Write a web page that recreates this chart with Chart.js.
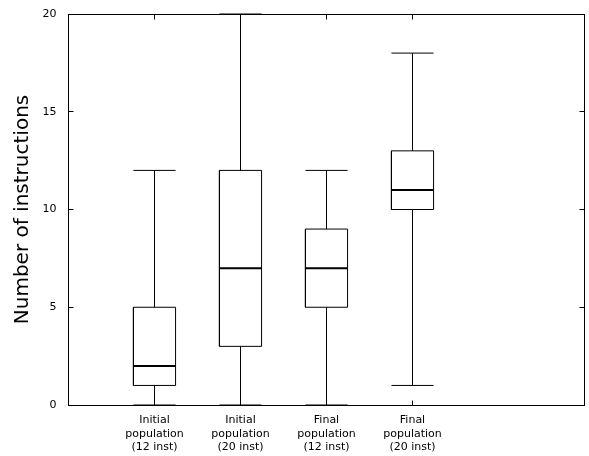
<!DOCTYPE html>
<html>
<head>
<meta charset="utf-8">
<script src="https://cdn.jsdelivr.net/npm/chart.js@4"></script>
<style>
  html, body { margin: 0; padding: 0; background: #fff; }
  #wrap { width: 589px; height: 456px; }
</style>
</head>
<body>
<div id="wrap"><canvas id="boxChart" width="589" height="456"></canvas></div>
<script>
// Box plot: number of instructions per population
const categories = [
  ["Initial", "population", "(12 inst)"],
  ["Initial", "population", "(20 inst)"],
  ["Final", "population", "(12 inst)"],
  ["Final", "population", "(20 inst)"]
];
const positions = [1, 2, 3, 4];
const mins    = [0, 0, 0, 1];
const q1s     = [1, 3, 5, 10];
const medians = [2, 7, 7, 11];
const q3s     = [5, 12, 9, 13];
const maxs    = [12, 20, 12, 18];
const yTicks  = [0, 5, 10, 15, 20];

const HALF = 0.245;   // half box width, in x units
const FONT = "'DejaVu Sans', sans-serif";

// one dataset per kind of mark, segments split by null points
function boxOutlines() {
  const pts = [];
  positions.forEach((x, i) => {
    pts.push({ x: x - HALF, y: q1s[i] }, { x: x + HALF, y: q1s[i] },
             { x: x + HALF, y: q3s[i] }, { x: x - HALF, y: q3s[i] },
             { x: x - HALF, y: q1s[i] }, { x: x, y: null });
  });
  return pts;
}
function medianLines() {
  const pts = [];
  positions.forEach((x, i) => {
    pts.push({ x: x - HALF, y: medians[i] }, { x: x + HALF, y: medians[i] }, { x: x, y: null });
  });
  return pts;
}
function whiskerLines() {
  const pts = [];
  positions.forEach((x, i) => {
    pts.push({ x: x, y: mins[i] }, { x: x, y: q1s[i] }, { x: x, y: null });
    pts.push({ x: x, y: q3s[i] }, { x: x, y: maxs[i] }, { x: x, y: null });
  });
  return pts;
}
function capLines() {
  const pts = [];
  positions.forEach((x, i) => {
    pts.push({ x: x - HALF, y: mins[i] }, { x: x + HALF, y: mins[i] }, { x: x, y: null });
    pts.push({ x: x - HALF, y: maxs[i] }, { x: x + HALF, y: maxs[i] }, { x: x, y: null });
  });
  return pts;
}

function lineSet(data, width) {
  return {
    data,
    showLine: true,
    spanGaps: false,
    borderColor: "#000",
    borderWidth: width,
    pointRadius: 0,
    pointHoverRadius: 0,
    tension: 0,
    clip: false
  };
}

// gnuplot-like frame with inward ticks on all four sides
const framePlugin = {
  id: "frame",
  afterDatasetsDraw(chart) {
    const { ctx, chartArea: a, scales: { x, y } } = chart;
    const len = 5;
    const L = Math.floor(a.left) + 0.5, R = Math.floor(a.right) + 0.5;
    const T = Math.floor(a.top) + 0.5, B = Math.floor(a.bottom) + 0.5;
    ctx.save();
    ctx.strokeStyle = "#000";
    ctx.lineWidth = 1;
    ctx.strokeRect(L, T, R - L, B - T);
    ctx.beginPath();
    positions.forEach(v => {
      const px = Math.floor(x.getPixelForValue(v)) + 0.5;
      ctx.moveTo(px, B); ctx.lineTo(px, B - len);
      ctx.moveTo(px, T); ctx.lineTo(px, T + len);
    });
    yTicks.forEach(v => {
      const py = Math.floor(y.getPixelForValue(v)) + 0.5;
      ctx.moveTo(L, py); ctx.lineTo(L + len, py);
      ctx.moveTo(R, py); ctx.lineTo(R - len, py);
    });
    ctx.stroke();
    ctx.restore();
  }
};

new Chart(document.getElementById("boxChart"), {
  type: "scatter",
  data: {
    datasets: [
      lineSet(whiskerLines(), 1),
      lineSet(capLines(), 1),
      lineSet(boxOutlines(), 1),
      lineSet(medianLines(), 2)
    ]
  },
  options: {
    responsive: false,
    animation: false,
    layout: { padding: { top: 14, right: 4.5, left: 0, bottom: 0 } },
    plugins: { legend: { display: false }, tooltip: { enabled: false } },
    scales: {
      x: {
        type: "linear",
        min: 0,
        max: 6,
        afterBuildTicks: (s) => { s.ticks = positions.map(v => ({ value: v })); },
        afterFit: (s) => { s.height = 51; s.paddingLeft = 0; s.paddingRight = 0; },
        grid: { display: false },
        border: { display: false },
        ticks: {
          padding: 1,
          color: "#000",
          font: { family: FONT, size: 11 },
          maxRotation: 0,
          autoSkip: false,
          callback: (v) => categories[positions.indexOf(v)] || ""
        }
      },
      y: {
        min: 0,
        max: 20,
        afterBuildTicks: (s) => { s.ticks = yTicks.map(v => ({ value: v })); },
        afterFit: (s) => { s.width = 68.5; s.paddingTop = 0; s.paddingBottom = 0; },
        grid: { display: false },
        border: { display: false },
        title: {
          display: true,
          text: "Number of instructions",
          color: "#000",
          font: { family: FONT, size: 20 },
          padding: { top: 11, bottom: 0 }
        },
        ticks: {
          padding: 4,
          color: "#000",
          font: { family: FONT, size: 11 }
        }
      }
    }
  },
  plugins: [framePlugin]
});
</script>
</body>
</html>
